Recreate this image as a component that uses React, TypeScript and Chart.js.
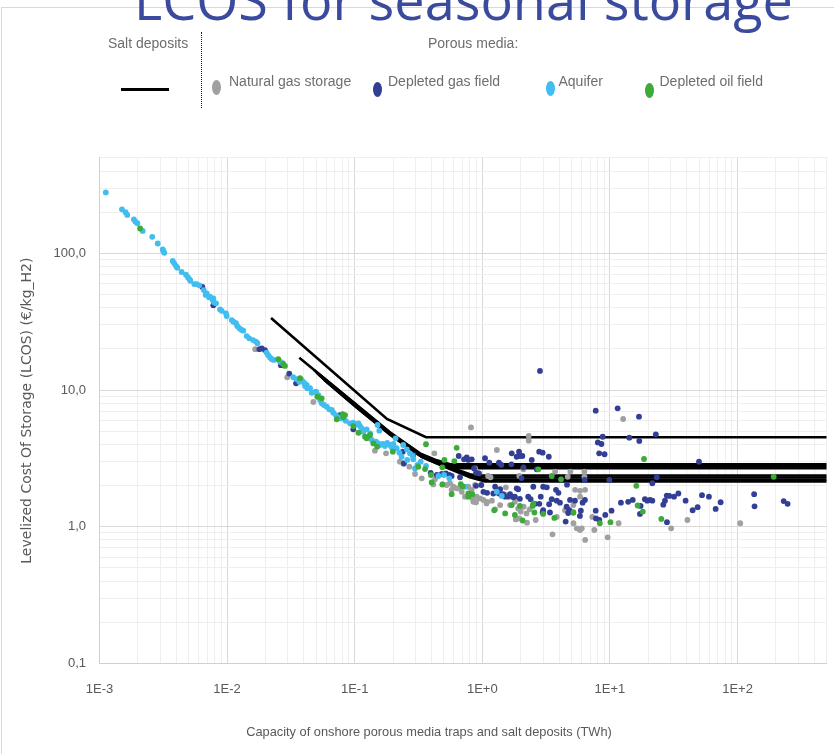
import React, { useEffect, useRef } from 'react';
import { Chart, registerables } from 'chart.js';

Chart.register(...registerables);

// ---------- data (capacity TWh, LCOS €/kg_H2) ----------
const naturalGasStorage: [number, number][] = [
  [0.0166, 19.9], [0.0296, 12.4], [0.0474, 8.17], [0.144, 3.6], [0.176, 3.44], [0.226, 2.99], [0.268, 2.75], [0.297, 2.43], [0.24, 2.9],
  [0.815, 5.33], [2.31, 4.61], [2.31, 4.26], [1.3, 3.64], [0.421, 3.44], [0.877, 2.67], [0.904, 2.53], [1.11, 2.35], [1.16, 2.3], [1.95, 2.35],
  [3.72, 2.53], [4.9, 2.53], [4.67, 2.32], [6.31, 2.53], [6.31, 2.32], [12.7, 6.14],
  [0.335, 2.26], [0.413, 2.04], [0.426, 2.22], [0.558, 2.08], [0.593, 1.96], [0.649, 1.91], [0.777, 1.96], [0.826, 1.86], [0.877, 2.02],
  [0.841, 1.61], [0.893, 1.51], [0.959, 1.61], [1.02, 1.57],
  [1.09, 1.52], [1.19, 1.55], [1.26, 1.34], [1.38, 1.44], [1.53, 1.94], [1.53, 1.71], [1.65, 1.44], [1.8, 1.52], [1.91, 1.36], [2.0, 1.29],
  [2.11, 1.4], [2.22, 1.25], [2.35, 1.34], [2.24, 1.07], [1.83, 1.13], [1.95, 1.15],
  [2.62, 1.12], [3.0, 1.29], [3.83, 1.18], [4.45, 1.32], [4.78, 1.32], [5.17, 1.44], [5.34, 1.86], [5.84, 1.83], [6.39, 1.86], [5.84, 1.66],
  [5.18, 1.06], [5.5, 0.973], [5.84, 0.946], [6.02, 0.973], [6.4, 0.8], [3.55, 0.88], [7.55, 0.946], [7.28, 1.18], [9.6, 0.837], [11.7, 1.06],
  [40.5, 1.12], [30.2, 0.973], [105, 1.06],
  [0.49, 2.04], [0.526, 2.02], [0.575, 1.86], [0.63, 1.91], [0.69, 1.8], [0.732, 1.66], [0.851, 1.52], [0.904, 1.66], [1.08, 1.48], [2.1, 2.63],
];

const depletedGasField: [number, number][] = [
  [0.0064, 56.7], [0.0078, 41.7], [0.0179, 19.9], [0.0187, 20.2], [0.0198, 19.6], [0.0264, 15.2], [0.0307, 13.2], [0.0347, 11.2],
  [0.0767, 6.56], [0.0975, 5.16], [0.128, 4.5], [0.238, 3.54], [0.243, 2.9], [0.288, 3.35],
  [2.83, 13.8], [7.74, 7.06], [11.5, 7.35], [16.9, 6.38], [22.9, 4.74], [8.78, 4.55], [8.04, 4.14], [8.58, 4.03], [14.2, 4.48], [17.0, 4.24],
  [8.24, 3.44], [9.08, 3.39], [49.9, 2.99], [23.3, 2.3], [21.5, 2.08], [9.89, 2.2], [6.34, 2.2],
  [1.7, 3.44], [1.86, 3.25], [1.94, 3.54], [1.97, 3.29], [2.06, 3.29], [2.44, 3.08], [2.79, 3.54], [2.97, 3.48], [3.32, 3.25], [2.1, 2.72],
  [2.67, 2.63], [2.03, 2.27], [1.05, 3.17], [1.35, 2.94], [1.41, 2.83], [1.69, 2.86],
  [0.653, 3.29], [0.719, 3.11], [0.755, 3.22], [0.777, 3.08], [0.826, 3.11], [0.893, 2.48], [0.942, 2.46], [0.669, 2.3], [0.575, 2.35],
  [0.394, 2.48], [0.44, 2.39], [0.481, 2.43], [0.519, 2.46], [0.552, 2.39],
  [0.893, 1.99], [0.982, 2.02], [1.02, 1.8], [1.26, 1.96], [1.38, 1.88], [1.35, 1.75], [1.51, 1.66], [1.65, 1.73], [1.8, 1.66], [1.91, 1.88],
  [1.97, 1.6], [2.29, 1.66], [2.39, 1.59], [2.87, 1.66], [3.0, 1.96], [3.2, 1.94],
  [2.59, 1.47], [2.8, 1.47], [3.0, 1.32], [3.34, 1.46], [3.5, 1.59], [3.83, 1.55], [4.06, 1.5], [4.87, 1.57], [5.32, 1.55], [6.11, 1.5],
  [6.37, 1.57], [4.58, 1.4], [4.81, 1.32], [2.97, 1.27], [3.39, 1.27], [4.71, 1.26], [5.15, 1.27], [5.92, 1.31], [5.82, 1.2], [4.5, 1.09],
  [7.74, 1.31], [7.78, 1.15], [8.26, 1.12], [9.2, 1.22], [10.3, 1.31], [12.2, 1.5], [13.9, 1.52], [15.1, 1.57], [18.8, 1.59], [19.6, 1.55],
  [20.6, 1.57], [21.5, 1.55], [17.4, 1.42], [17.2, 1.24], [26.2, 1.45], [27.0, 1.55], [27.9, 1.69], [29.2, 1.68], [31.8, 1.66], [34.4, 1.75],
  [39.2, 1.55], [44.5, 1.32], [48.7, 1.39], [52.7, 1.7], [59.7, 1.66], [67.4, 1.35], [73.8, 1.51], [28.0, 1.08], [135, 1.73], [136, 1.41],
  [230, 1.54], [247, 1.47],
  [0.861, 2.67], [1.135, 2.94], [1.09, 1.77], [1.22, 1.75], [1.46, 1.73], [1.6, 1.66], [1.75, 1.64], [1.86, 1.91], [2.51, 1.96], [3.78, 1.86],
  [3.95, 1.77], [4.61, 2.03],
];

const aquifer: [number, number][] = [
  [0.00112, 279], [0.0015, 210], [0.0016, 200], [0.00165, 191], [0.00186, 177], [0.00192, 170], [0.00198, 166], [0.00218, 146],
  [0.00259, 132], [0.00286, 118], [0.00313, 107], [0.00316, 104], [0.00322, 101], [0.00375, 87.9], [0.00385, 84.5], [0.00398, 80.7],
  [0.00407, 78.5], [0.0044, 73], [0.00476, 69.7], [0.00494, 66.7], [0.00509, 64.5], [0.00515, 63], [0.00553, 59.6], [0.00578, 59.6],
  [0.00606, 58.3], [0.00656, 53.9], [0.0068, 49.6], [0.00721, 47.7], [0.0078, 46.9], [0.00692, 51], [0.00734, 48.2], [0.00771, 45.5],
  [0.00789, 43.8], [0.00819, 43.1], [0.0088, 38.9], [0.00908, 38], [0.0098, 36.4], [0.00993, 34.8], [0.01087, 32.5], [0.0112, 31.6],
  [0.01175, 30.8], [0.012, 29.4], [0.01247, 28.3], [0.013, 27.5], [0.0134, 27.2], [0.01425, 24.8], [0.0149, 23.9], [0.016, 23.2],
  [0.0168, 22.6], [0.0173, 22], [0.0204, 18.8], [0.021, 18], [0.0217, 17.3], [0.0224, 16.8], [0.0233, 16.6], [0.026, 16.1], [0.0273, 15.7],
  [0.033, 12.4], [0.0351, 12], [0.0368, 11.5], [0.0385, 11.8], [0.0401, 11.3], [0.0421, 10.9], [0.0447, 10.3], [0.0498, 9.72], [0.0519, 9.19],
  [0.0408, 10.7], [0.0425, 10.3], [0.046, 9.55], [0.0489, 9.67], [0.0535, 8.45], [0.0551, 8.0], [0.0574, 7.77], [0.0604, 7.55], [0.0632, 7.22],
  [0.066, 7.14], [0.068, 6.82], [0.0713, 6.56], [0.0743, 6.31], [0.078, 6.2], [0.085, 5.95], [0.0918, 5.71], [0.0975, 5.77], [0.1005, 5.55],
  [0.107, 5.71], [0.11, 5.45], [0.1135, 5.25], [0.1167, 4.95], [0.124, 5.16], [0.132, 4.82], [0.136, 4.31], [0.1415, 4.11], [0.147, 4.19],
  [0.153, 4.07], [0.158, 3.96], [0.166, 4.03], [0.1725, 3.89], [0.18, 4.11], [0.189, 3.96], [0.195, 3.81], [0.201, 4.03], [0.151, 5.55],
  [0.156, 5.04], [0.209, 4.43], [0.213, 3.75], [0.224, 3.48], [0.24, 3.96], [0.256, 3.68], [0.271, 3.44], [0.285, 3.29], [0.288, 3.11],
  [0.297, 2.67], [0.31, 2.83], [0.258, 3.08], [0.233, 3.25], [0.329, 2.99], [0.362, 2.78], [0.453, 2.35], [0.501, 2.39], [0.551, 2.26],
  [0.732, 1.96], [1.3, 1.8], [1.42, 1.68],
];

const depletedOilField: [number, number][] = [
  [0.00208, 152], [0.0252, 16.8], [0.0275, 15.5], [0.0284, 15.0], [0.0373, 12.2], [0.0509, 8.93], [0.0551, 8.7], [0.0805, 6.67], [0.084, 6.56],
  [0.0814, 6.31], [0.0723, 6.11], [0.0975, 5.45], [0.107, 4.87], [0.1205, 4.55], [0.124, 4.43], [0.132, 4.69], [0.14, 4.07], [0.15, 3.85],
  [0.199, 3.54], [0.362, 4.01], [0.63, 3.78], [0.505, 3.08], [0.604, 3.02], [0.486, 2.72], [0.356, 2.64], [0.315, 2.75], [0.396, 2.39],
  [0.401, 2.11], [0.486, 2.04], [0.575, 1.73], [0.678, 2.05], [0.7, 1.97], [0.777, 1.75], [0.835, 1.73], [0.777, 1.66],
  [2.75, 2.63], [3.5, 2.35], [4.14, 2.22], [1.7, 1.44], [1.97, 1.42], [2.48, 1.42], [1.8, 1.22], [2.07, 1.11], [1.51, 1.25], [1.24, 1.32],
  [2.56, 1.27], [3.0, 1.24], [3.67, 1.16], [5.18, 1.27], [8.34, 1.06], [10.1, 1.08], [16.1, 1.99], [16.5, 1.43], [18.1, 1.29], [18.5, 3.13],
  [25.3, 1.14], [192, 2.32], [2.51, 1.48],
];

// Salt deposit cost curves
const saltCurve1: [number, number][] = [[0.0221, 33.6], [0.179, 6.14], [0.362, 4.51], [500, 4.51]];
const saltCurve2: [number, number][] = [[0.0368, 17.2], [0.104, 7.77], [0.189, 4.91], [0.325, 3.44], [0.44, 3.06], [0.56, 2.87], [500, 2.87]];
const saltCurve3: [number, number][] = [[0.048, 14.0], [0.104, 7.7], [0.189, 4.87], [0.325, 3.41], [0.45, 3.0], [0.6, 2.77], [500, 2.77]];
const saltCurve4: [number, number][] = [[0.05, 13.4], [0.104, 7.62], [0.189, 4.83], [0.325, 3.38], [0.46, 2.95], [0.65, 2.68], [500, 2.68]];
const saltCurve5: [number, number][] = [[0.052, 13.0], [0.104, 7.55], [0.189, 4.8], [0.33, 3.33], [0.46, 2.9], [0.8, 2.42], [0.9, 2.37], [500, 2.37]];
const saltCurve6: [number, number][] = [[0.054, 12.6], [0.104, 7.5], [0.19, 4.76], [0.33, 3.3], [0.47, 2.86], [0.8, 2.38], [0.95, 2.29], [500, 2.29]];
const saltCurve7: [number, number][] = [[0.056, 12.2], [0.104, 7.45], [0.19, 4.72], [0.33, 3.27], [0.47, 2.83], [0.8, 2.33], [1.0, 2.21], [500, 2.21]];
const saltCurve8: [number, number][] = [[0.058, 11.8], [0.104, 7.4], [0.19, 4.68], [0.34, 3.22], [0.48, 2.8], [0.8, 2.3], [1.05, 2.14], [500, 2.14]];
const saltCurves = [saltCurve1, saltCurve2, saltCurve3, saltCurve4, saltCurve5, saltCurve6, saltCurve7, saltCurve8];

// Axes
const xDecades = [0.001, 0.01, 0.1, 1, 10, 100];
const xTickLabels = ['1E-3', '1E-2', '1E-1', '1E+0', '1E+1', '1E+2'];
const yDecades = [0.1, 1, 10, 100];
const yTickLabels = ['0,1', '1,0', '10,0', '100,0'];
const xMin = 0.001, xMax = 500, yMin = 0.1, yMax = 500;

const seriesColors = {
  gas: '#a0a0a0',
  depletedGas: '#323f95',
  aquifer: '#41bdf0',
  oil: '#3cab38',
};

const SANS = "'Liberation Sans', Arial, sans-serif";

function logTicks(decades: number[], max: number) {
  const out: { value: number; major: boolean }[] = [];
  for (const d of decades) {
    for (let m = 1; m <= 9; m++) {
      const v = parseFloat((d * m).toPrecision(6));
      if (v <= max) out.push({ value: v, major: m === 1 });
    }
  }
  return out;
}

const toXY = (pts: [number, number][]) => pts.map(([x, y]) => ({ x, y }));

export default function App() {
  const ref = useRef<HTMLCanvasElement | null>(null);

  useEffect(() => {
    if (!ref.current) return;
    const pointDs = (label: string, pts: [number, number][], color: string, order: number) => ({
      label,
      data: toXY(pts),
      backgroundColor: color,
      borderColor: color,
      borderWidth: 0,
      pointRadius: 2.9,
      pointBorderWidth: 0,
      showLine: false,
      order,
    });
    const lineDs = saltCurves.map((c, i) => ({
      label: 'Salt deposits ' + (i + 1),
      data: toXY(c),
      borderColor: '#000000',
      backgroundColor: '#000000',
      borderWidth: i === 0 ? 2.6 : 2.5,
      pointRadius: 0,
      showLine: true,
      fill: false,
      tension: 0,
      order: 10,
    }));

    const gridColor = (ctx: any) => (ctx.tick && ctx.tick.major ? '#d9d9d9' : '#efefef');

    const chart = new Chart(ref.current, {
      type: 'scatter',
      data: {
        datasets: [
          pointDs('Depleted oil field', depletedOilField, seriesColors.oil, 0),
          pointDs('Aquifer', aquifer, seriesColors.aquifer, 1),
          pointDs('Depleted gas field', depletedGasField, seriesColors.depletedGas, 2),
          pointDs('Natural gas storage', naturalGasStorage, seriesColors.gas, 3),
          ...lineDs,
        ] as any,
      },
      options: {
        animation: false,
        responsive: false,
        maintainAspectRatio: false,
        events: [],
        layout: { padding: { left: 0, top: 157.8, right: 7.3, bottom: 0 } },
        plugins: { legend: { display: false }, tooltip: { enabled: false }, title: { display: false } },
        scales: {
          x: {
            type: 'logarithmic',
            min: xMin,
            max: xMax,
            afterBuildTicks: (scale: any) => {
              scale.ticks = logTicks(xDecades, xMax);
            },
            afterFit: (scale: any) => {
              scale.height = 90.6;
              scale.paddingLeft = 0;
              scale.paddingRight = 0;
            },
            ticks: {
              autoSkip: false,
              maxRotation: 0,
              minRotation: 0,
              padding: 17.8,
              color: '#595959',
              font: { family: SANS, size: 13 },
              callback: (value: any) => {
                const i = xDecades.indexOf(Number(value));
                return i >= 0 ? xTickLabels[i] : '';
              },
            },
            grid: { color: gridColor, lineWidth: 1, drawTicks: false },
            border: { display: true, color: '#d0d0d0', width: 1 },
          },
          y: {
            type: 'logarithmic',
            min: yMin,
            max: yMax,
            afterBuildTicks: (scale: any) => {
              scale.ticks = logTicks(yDecades, yMax);
            },
            afterFit: (scale: any) => {
              scale.width = 99.5;
              scale.paddingTop = 0;
              scale.paddingBottom = 0;
            },
            ticks: {
              autoSkip: false,
              padding: 13.5,
              color: '#595959',
              font: { family: SANS, size: 13 },
              callback: (value: any) => {
                const i = yDecades.indexOf(Number(value));
                return i >= 0 ? yTickLabels[i] : '';
              },
            },
            grid: { color: gridColor, lineWidth: 1, drawTicks: false },
            border: { display: true, color: '#d0d0d0', width: 1 },
            title: {
              display: true,
              text: 'Levelized Cost Of Storage (LCOS) (€/kg_H2)',
              color: '#595959',
              font: { family: "'DejaVu Sans', Verdana, sans-serif", size: 14 },
              padding: { top: 18.8, bottom: 0 },
            },
          },
        },
      } as any,
    });
    return () => chart.destroy();
  }, []);

  const legendText: React.CSSProperties = {
    position: 'absolute',
    fontFamily: SANS,
    fontSize: '14px',
    lineHeight: '14px',
    color: '#6e6e6e',
    whiteSpace: 'nowrap',
  };
  const dot = (left: number, top: number, color: string): React.CSSProperties => ({
    position: 'absolute',
    left,
    top,
    width: 9,
    height: 15,
    borderRadius: '50%',
    background: color,
  });

  return (
    <div
      style={{
        position: 'absolute',
        left: 0,
        top: 0,
        width: 834,
        height: 754,
        overflow: 'hidden',
        background: '#ffffff',
      }}
    >
      <div
        style={{
          position: 'absolute',
          left: 1,
          top: 7,
          width: 900,
          height: 900,
          border: '1px solid #d9d9d9',
        }}
      />
      <canvas ref={ref} width={834} height={754} style={{ position: 'absolute', left: 0, top: 0, width: 834, height: 754 }} />
      <div
        style={{
          position: 'absolute',
          left: 134,
          top: -28.5,
          fontFamily: "'Open Sans', sans-serif",
          fontSize: '54px',
          lineHeight: '54px',
          color: '#3a4a9c',
          whiteSpace: 'nowrap',
        }}
      >
        LCOS for seasonal storage
      </div>
      <div style={{ ...legendText, left: 108, top: 36 }}>Salt deposits</div>
      <div style={{ position: 'absolute', left: 121, top: 88, width: 48, height: 2.5, background: '#000' }} />
      <div style={{ position: 'absolute', left: 201, top: 32, height: 76, borderLeft: '1px dotted #222' }} />
      <div style={{ ...legendText, left: 428, top: 36 }}>Porous media:</div>
      <div style={dot(212, 80, seriesColors.gas)} />
      <div style={{ ...legendText, left: 229, top: 73.5 }}>Natural gas storage</div>
      <div style={dot(373, 82, seriesColors.depletedGas)} />
      <div style={{ ...legendText, left: 388, top: 73.5 }}>Depleted gas field</div>
      <div style={dot(545.5, 81, seriesColors.aquifer)} />
      <div style={{ ...legendText, left: 558.5, top: 73.5 }}>Aquifer</div>
      <div style={dot(645, 82.5, seriesColors.oil)} />
      <div style={{ ...legendText, left: 659.5, top: 73.5 }}>Depleted oil field</div>
      <div
        style={{
          position: 'absolute',
          left: 429,
          top: 725.5,
          transform: 'translateX(-50%)',
          fontFamily: SANS,
          fontSize: '12.8px',
          lineHeight: '12.8px',
          color: '#595959',
          whiteSpace: 'nowrap',
        }}
      >
        Capacity of onshore porous media traps and salt deposits (TWh)
      </div>
    </div>
  );
}
